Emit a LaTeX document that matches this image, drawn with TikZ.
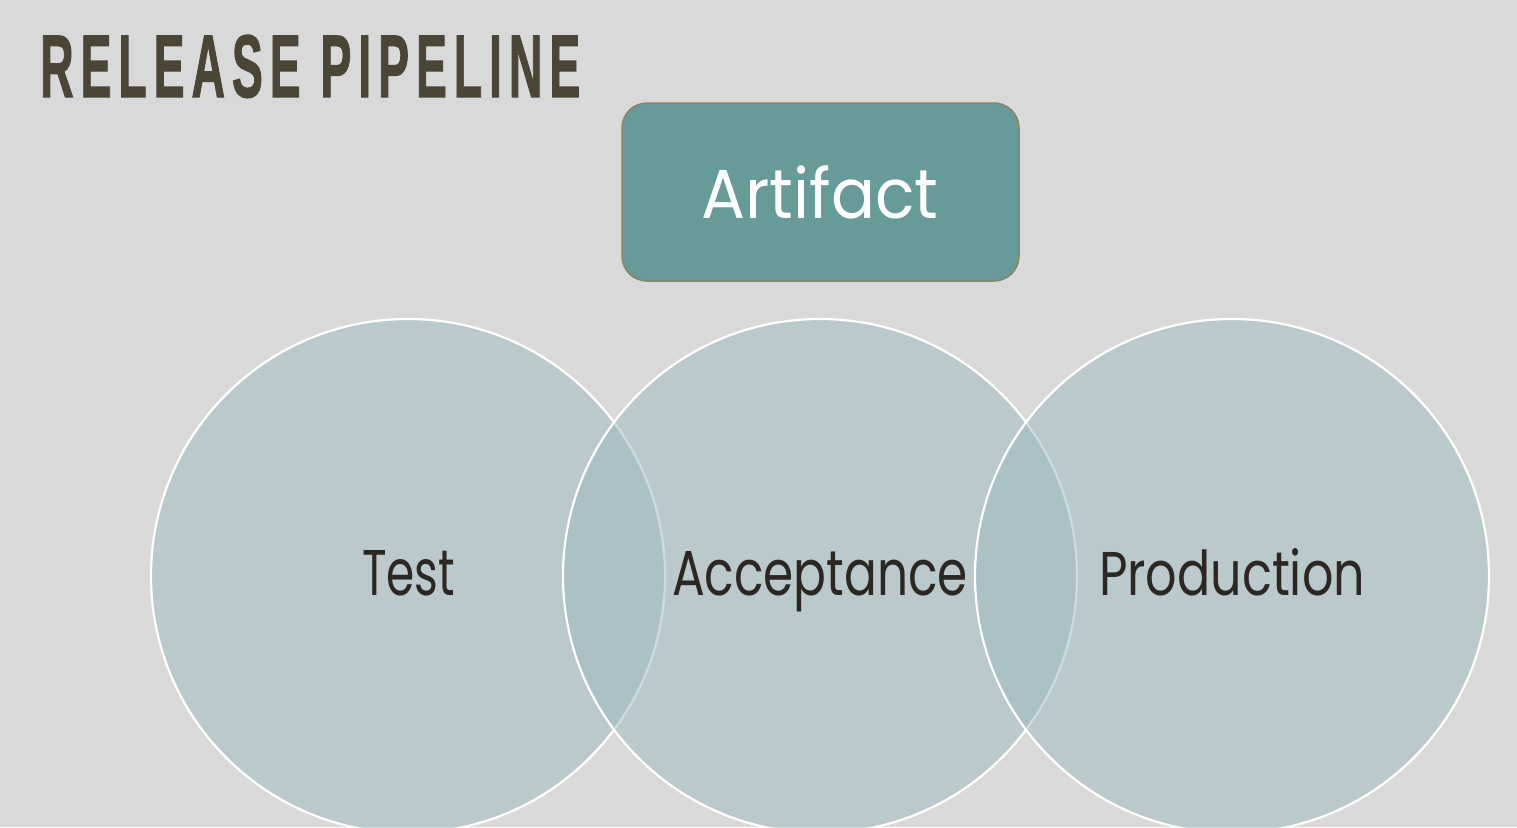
\documentclass[tikz,border=0pt]{standalone}
\usepackage{fontspec}
\setmainfont{Poppins}
\newfontfamily\titlefont[LetterSpace=15,BoldFeatures={FakeBold=1.5}]{Liberation Sans}
\usepackage{graphicx}
\definecolor{bgc}{RGB}{217,217,217}
\definecolor{circfill}{RGB}{157,187,193}
\definecolor{boxfill}{RGB}{102,155,154}
\definecolor{boxline}{RGB}{140,132,102}
\definecolor{titlec}{RGB}{75,69,54}
\definecolor{txtc}{RGB}{43,40,36}
\tikzset{
  stage/.style={circle, minimum size=514pt, inner sep=0pt, fill=circfill, fill opacity=0.5, draw=white, draw opacity=1, line width=2.2pt},
  stagetext/.style={anchor=base, inner sep=0pt, text=txtc, font=\fontsize{60}{60}\selectfont},
  artbox/.style={rectangle, rounded corners=25pt, minimum width=397pt, minimum height=178pt, fill=boxfill, draw=boxline, line width=1.5pt},
}
\begin{document}
\begin{tikzpicture}[x=1pt,y=-1pt]
\clip (0,0) rectangle (1517,827);
\fill[bgc] (0,0) rectangle (1517,827);
\node[anchor=base west, inner sep=0pt, text=titlec] (title) at (40,97)
  {\resizebox{540pt}{62pt}{\titlefont\bfseries RELEASE PIPELINE}};
\node[artbox] (artifact) at (820.5,192) {};
\node[anchor=base, inner sep=0pt, text=white] (arttext) at (820,218)
  {\resizebox{237pt}{53pt}{Artifact}};
\node[stage] (test) at (408,576) {};
\node[stagetext] (testtext) at (408.5,595) {\resizebox{93pt}{45pt}{Test}};
\node[stage] (acc) at (820,576) {};
\node[stagetext] (acctext) at (820,595) {\resizebox{296pt}{44pt}{Acceptance}};
\node[stage] (prod) at (1232,576) {};
\node[stagetext] (prodtext) at (1232,595) {\resizebox{266pt}{47pt}{Production}};
\end{tikzpicture}
\end{document}
